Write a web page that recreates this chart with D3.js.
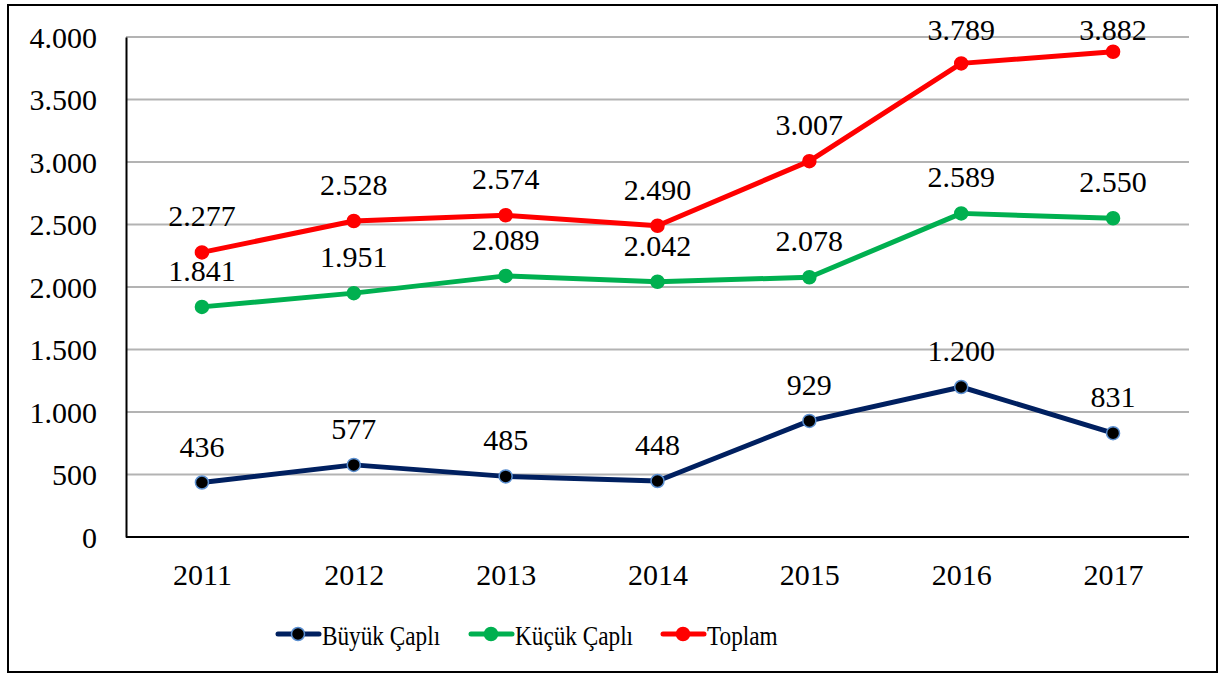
<!DOCTYPE html>
<html><head><meta charset="utf-8">
<script src="https://cdn.jsdelivr.net/npm/d3@7"></script>
<style>body{margin:0;background:#fff;}svg{display:block;}</style>
</head><body>
<svg id="c" width="1219" height="675"></svg>
<script>
const years = ["2011","2012","2013","2014","2015","2016","2017"];
const buyuk = [436,577,485,448,929,1200,831];
const kucuk = [1841,1951,2089,2042,2078,2589,2550];
const toplam = [2277,2528,2574,2490,3007,3789,3882];
const yTicks = [0,500,1000,1500,2000,2500,3000,3500,4000];
const seriesNames = ["Büyük Çaplı","Küçük Çaplı","Toplam"];

const FONT = "Liberation Serif";
const FS = "30px";
const svg = d3.select("#c");
svg.append("rect").attr("x",8).attr("y",5).attr("width",1209).attr("height",667)
  .attr("fill","#fff").attr("stroke","#000").attr("stroke-width",2);

const L=126,R=1189,T=37,B=537;
const x = d3.scalePoint().domain(years).range([L,R]).padding(0.5);
const y = d3.scaleLinear().domain([0,4000]).range([B,T]);
const fmt = v => d3.format(",")(v).replace(/,/g,".");

// gridlines
svg.append("g").selectAll("line").data(yTicks.filter(d=>d>0)).join("line")
  .attr("x1",L).attr("x2",R).attr("y1",d=>y(d)).attr("y2",d=>y(d))
  .attr("stroke","#b3b3b3").attr("stroke-width",2);

// y axis
const ya = svg.append("g").attr("transform",`translate(${L},0)`)
  .call(d3.axisLeft(y).tickValues(yTicks).tickFormat(fmt).tickSize(0).tickPadding(29));
ya.attr("font-family",FONT);
ya.select(".domain").attr("stroke","#000").attr("stroke-width",2);
ya.selectAll("text").style("font-size",FS).style("font-family",FONT).attr("fill","#000").attr("dy","0.34em");

// x axis
const xa = svg.append("g").attr("transform",`translate(0,${B})`)
  .call(d3.axisBottom(x).tickSize(0).tickPadding(27));
xa.attr("font-family",FONT);
xa.select(".domain").attr("stroke","#000").attr("stroke-width",2).attr("d",`M${L},0H${R}`);
xa.selectAll("text").style("font-size",FS).style("font-family",FONT).attr("fill","#000");

const series = [
  {name:seriesNames[0], vals:buyuk, color:"#002060", fill:"#000", stroke:"#5b8fd0"},
  {name:seriesNames[1], vals:kucuk, color:"#00b050", fill:"#00b050", stroke:"#00b050"},
  {name:seriesNames[2], vals:toplam, color:"#ff0000", fill:"#ff0000", stroke:"#ff0000"}
];
const line = d3.line().x((d,i)=>x(years[i])).y(d=>y(d));
series.forEach(s=>{
  const g = svg.append("g");
  g.append("path").attr("d",line(s.vals)).attr("fill","none").attr("stroke",s.color)
    .attr("stroke-width",5).attr("stroke-linejoin","round").attr("stroke-linecap","round");
  g.selectAll("circle").data(s.vals).join("circle")
    .attr("cx",(d,i)=>x(years[i])).attr("cy",d=>y(d)).attr("r",6.5)
    .attr("fill",s.fill).attr("stroke",s.stroke).attr("stroke-width",1.5);
  g.selectAll("text").data(s.vals).join("text")
    .attr("x",(d,i)=>x(years[i])).attr("y",d=>Math.max(y(d)-26, 40))
    .attr("text-anchor","middle").style("font-size",FS).style("font-family",FONT)
    .attr("fill","#000").text(d=>fmt(d));
});

// legend
const legX = [277,470,662];
series.forEach((s,i)=>{
  const g = svg.append("g").attr("transform",`translate(${legX[i]},634)`);
  g.append("line").attr("x1",1).attr("x2",42).attr("stroke",s.color).attr("stroke-width",5).attr("stroke-linecap","round");
  g.append("circle").attr("cx",21).attr("r",6.5).attr("fill",s.fill).attr("stroke",s.stroke).attr("stroke-width",1.5);
  g.append("text").attr("transform","translate(45,11) scale(0.83,1)")
    .style("font-size","28px").style("font-family",FONT).attr("fill","#000").text(s.name);
});
</script>
</body></html>
